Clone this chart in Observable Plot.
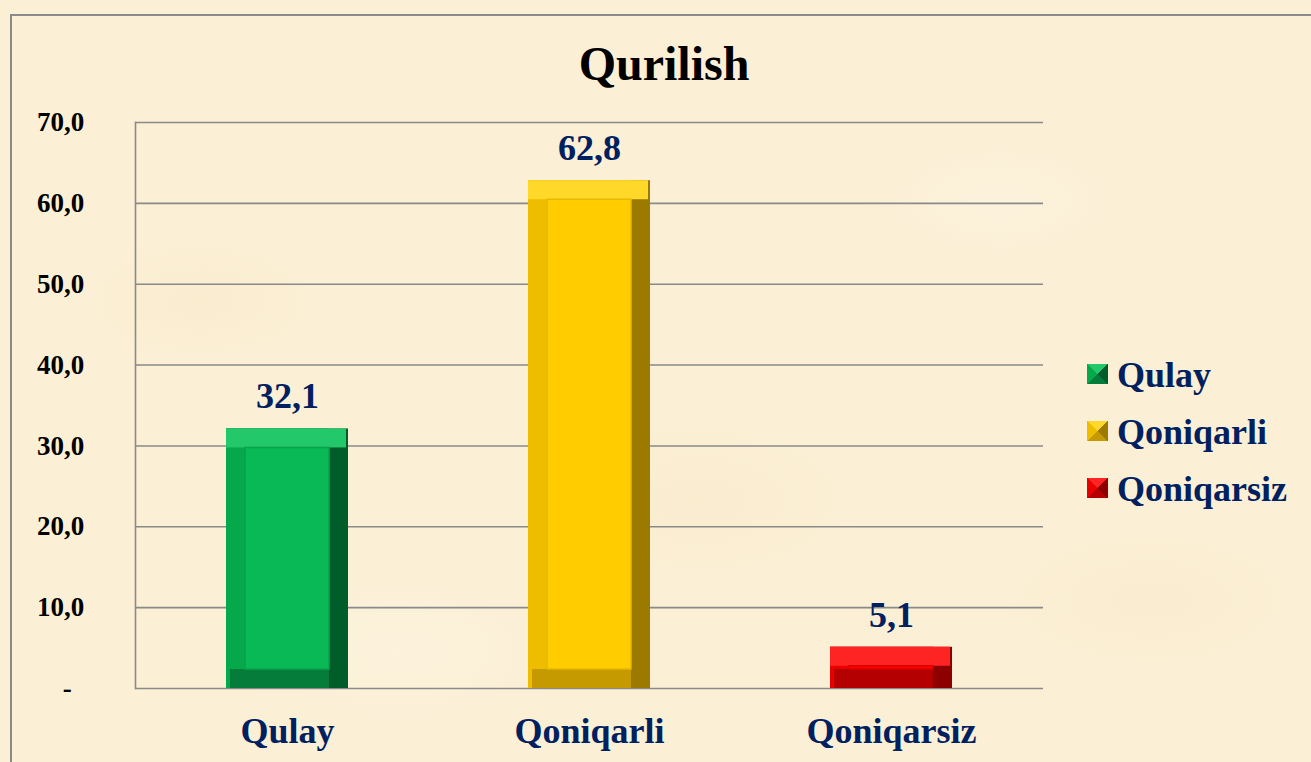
<!DOCTYPE html>
<html>
<head>
<meta charset="utf-8">
<script src="https://cdn.jsdelivr.net/npm/d3@7"></script>
<script src="https://cdn.jsdelivr.net/npm/@observablehq/plot@0.6"></script>
<style>
  html, body { margin: 0; padding: 0; }
  body {
    width: 1311px; height: 762px; overflow: hidden;
    background-color: #fbefd5;
    background-image:
      radial-gradient(ellipse 120px 60px at 200px 300px, rgba(240,222,180,0.15), transparent),
      radial-gradient(ellipse 160px 80px at 700px 500px, rgba(240,222,180,0.15), transparent),
      radial-gradient(ellipse 140px 70px at 1000px 200px, rgba(255,250,235,0.3), transparent),
      radial-gradient(ellipse 180px 90px at 400px 650px, rgba(255,250,235,0.3), transparent),
      radial-gradient(ellipse 150px 70px at 1150px 600px, rgba(240,222,180,0.15), transparent);
    font-family: "Liberation Serif", "Times New Roman", serif;
  }
  #wrap { position: relative; width: 1311px; height: 762px; }
  #border { position: absolute; left: 10px; top: 14px; width: 1400px; height: 900px;
            border-left: 2px solid #8a8a8a; border-top: 2px solid #8a8a8a; box-sizing: border-box; }
  #chart { position: absolute; left: 0; top: 0; }
  #title { position: absolute; top: 40px; left: 464px; width: 400px; text-align: center;
           font-size: 48px; line-height: 48px; font-weight: bold; color: #000; }
  .lg { position: absolute; left: 1087px; height: 40px; }
  .lg .sw { position: absolute; left: 0; width: 21px; height: 20px; }
  .lg .tx { position: absolute; left: 30px; top: -7px; font-size: 36px; line-height: 36px;
            font-weight: bold; color: #002060; white-space: nowrap; }
</style>
</head>
<body>
<div id="wrap">
  <div id="border"></div>
  <div id="chart"></div>
  <div id="title">Qurilish</div>
  <div id="legend"></div>
</div>
<script>
const categories = ["Qulay", "Qoniqarli", "Qoniqarsiz"];
const values = [32.1, 62.8, 5.1];
const yTicks = [0, 10, 20, 30, 40, 50, 60, 70];
const baseColors = ["#08b955", "#ffcc00", "#ff0000"];
const topColors = ["#22c86a", "#ffd829", "#ff2424"];
const leftColors = ["#06a84c", "#eebd00", "#e80000"];
const bottomColors = ["#057c3a", "#c49a00", "#b40000"];
const rightColors = ["#005d2a", "#9c7a00", "#8c0000"];
const lineColors = ["#07a44b", "#e8b800", "#d80000"];

const data = categories.map((c, i) => ({
  cat: c, value: values[i],
  base: baseColors[i], top: topColors[i], left: leftColors[i],
  bottom: bottomColors[i], right: rightColors[i], line: lineColors[i]
}));

const fmt = v => v === 0 ? "\u2002-" : v.toFixed(1).replace(".", ",");
const B = 19;   // bevel width
const SIDE = 90; // bar inset within band

const chart = Plot.plot({
  width: 1311,
  height: 762,
  marginLeft: 135,
  marginRight: 268,
  marginTop: 122,
  marginBottom: 74,
  style: { background: "transparent", fontFamily: "'Liberation Serif', 'Times New Roman', serif", fontWeight: "bold", overflow: "visible" },
  x: { domain: categories, padding: 0 },
  y: { domain: [0, 70] },
  marks: [
    Plot.gridY(yTicks, { stroke: "#8a8a8a", strokeOpacity: 1, strokeWidth: 1.6 }),
    Plot.frame({ anchor: "left", stroke: "#8a8a8a", strokeWidth: 1.6 }),
    Plot.axisY(yTicks, { tickSize: 0, tickPadding: 75, textAnchor: "middle", fontSize: 27, fill: "#000", tickFormat: fmt, label: null }),
    // bevel layers
    Plot.barY(data, { x: "cat", y: "value", fill: "right", insetLeft: SIDE, insetRight: SIDE }),
    Plot.barY(data, { x: "cat", y: "value", fill: "left", insetLeft: SIDE, insetRight: SIDE + B }),
    Plot.barY(data, { x: "cat", y1: 0, y2: 0, fill: "bottom", insetLeft: SIDE + 4, insetRight: SIDE + B, insetTop: -B, insetBottom: 0 }),
    Plot.barY(data, { x: "cat", y1: "value", y2: "value", fill: "top", insetLeft: SIDE, insetRight: SIDE + 2, insetBottom: -B, insetTop: 0 }),
    Plot.barY(data, { x: "cat", y: "value", fill: "base", stroke: "line", strokeWidth: 1.5, insetLeft: SIDE + B, insetRight: SIDE + B, insetTop: B, insetBottom: B }),
    Plot.text(data, { x: "cat", y: "value", text: d => fmt(d.value), dy: -32, lineAnchor: "middle", fontSize: 36, fontWeight: "bold", fill: "#002060" }),
    Plot.axisX({ tickSize: 0, tickPadding: 29, fontSize: 36, fill: "#002060", label: null })
  ]
});
document.getElementById("chart").appendChild(chart);

// legend
const lg = document.getElementById("legend");
categories.forEach((c, i) => {
  const row = document.createElement("div");
  row.className = "lg";
  row.style.top = (364 + i * 57) + "px";
  const sw = document.createElement("div");
  sw.className = "sw";
  sw.style.background = `conic-gradient(from -45deg, ${topColors[i]} 0deg 90deg, ${rightColors[i]} 90deg 180deg, ${bottomColors[i]} 180deg 270deg, ${leftColors[i]} 270deg 360deg)`;
  const tx = document.createElement("div");
  tx.className = "tx";
  tx.textContent = c;
  row.appendChild(sw); row.appendChild(tx);
  lg.appendChild(row);
});
</script>
</body>
</html>
